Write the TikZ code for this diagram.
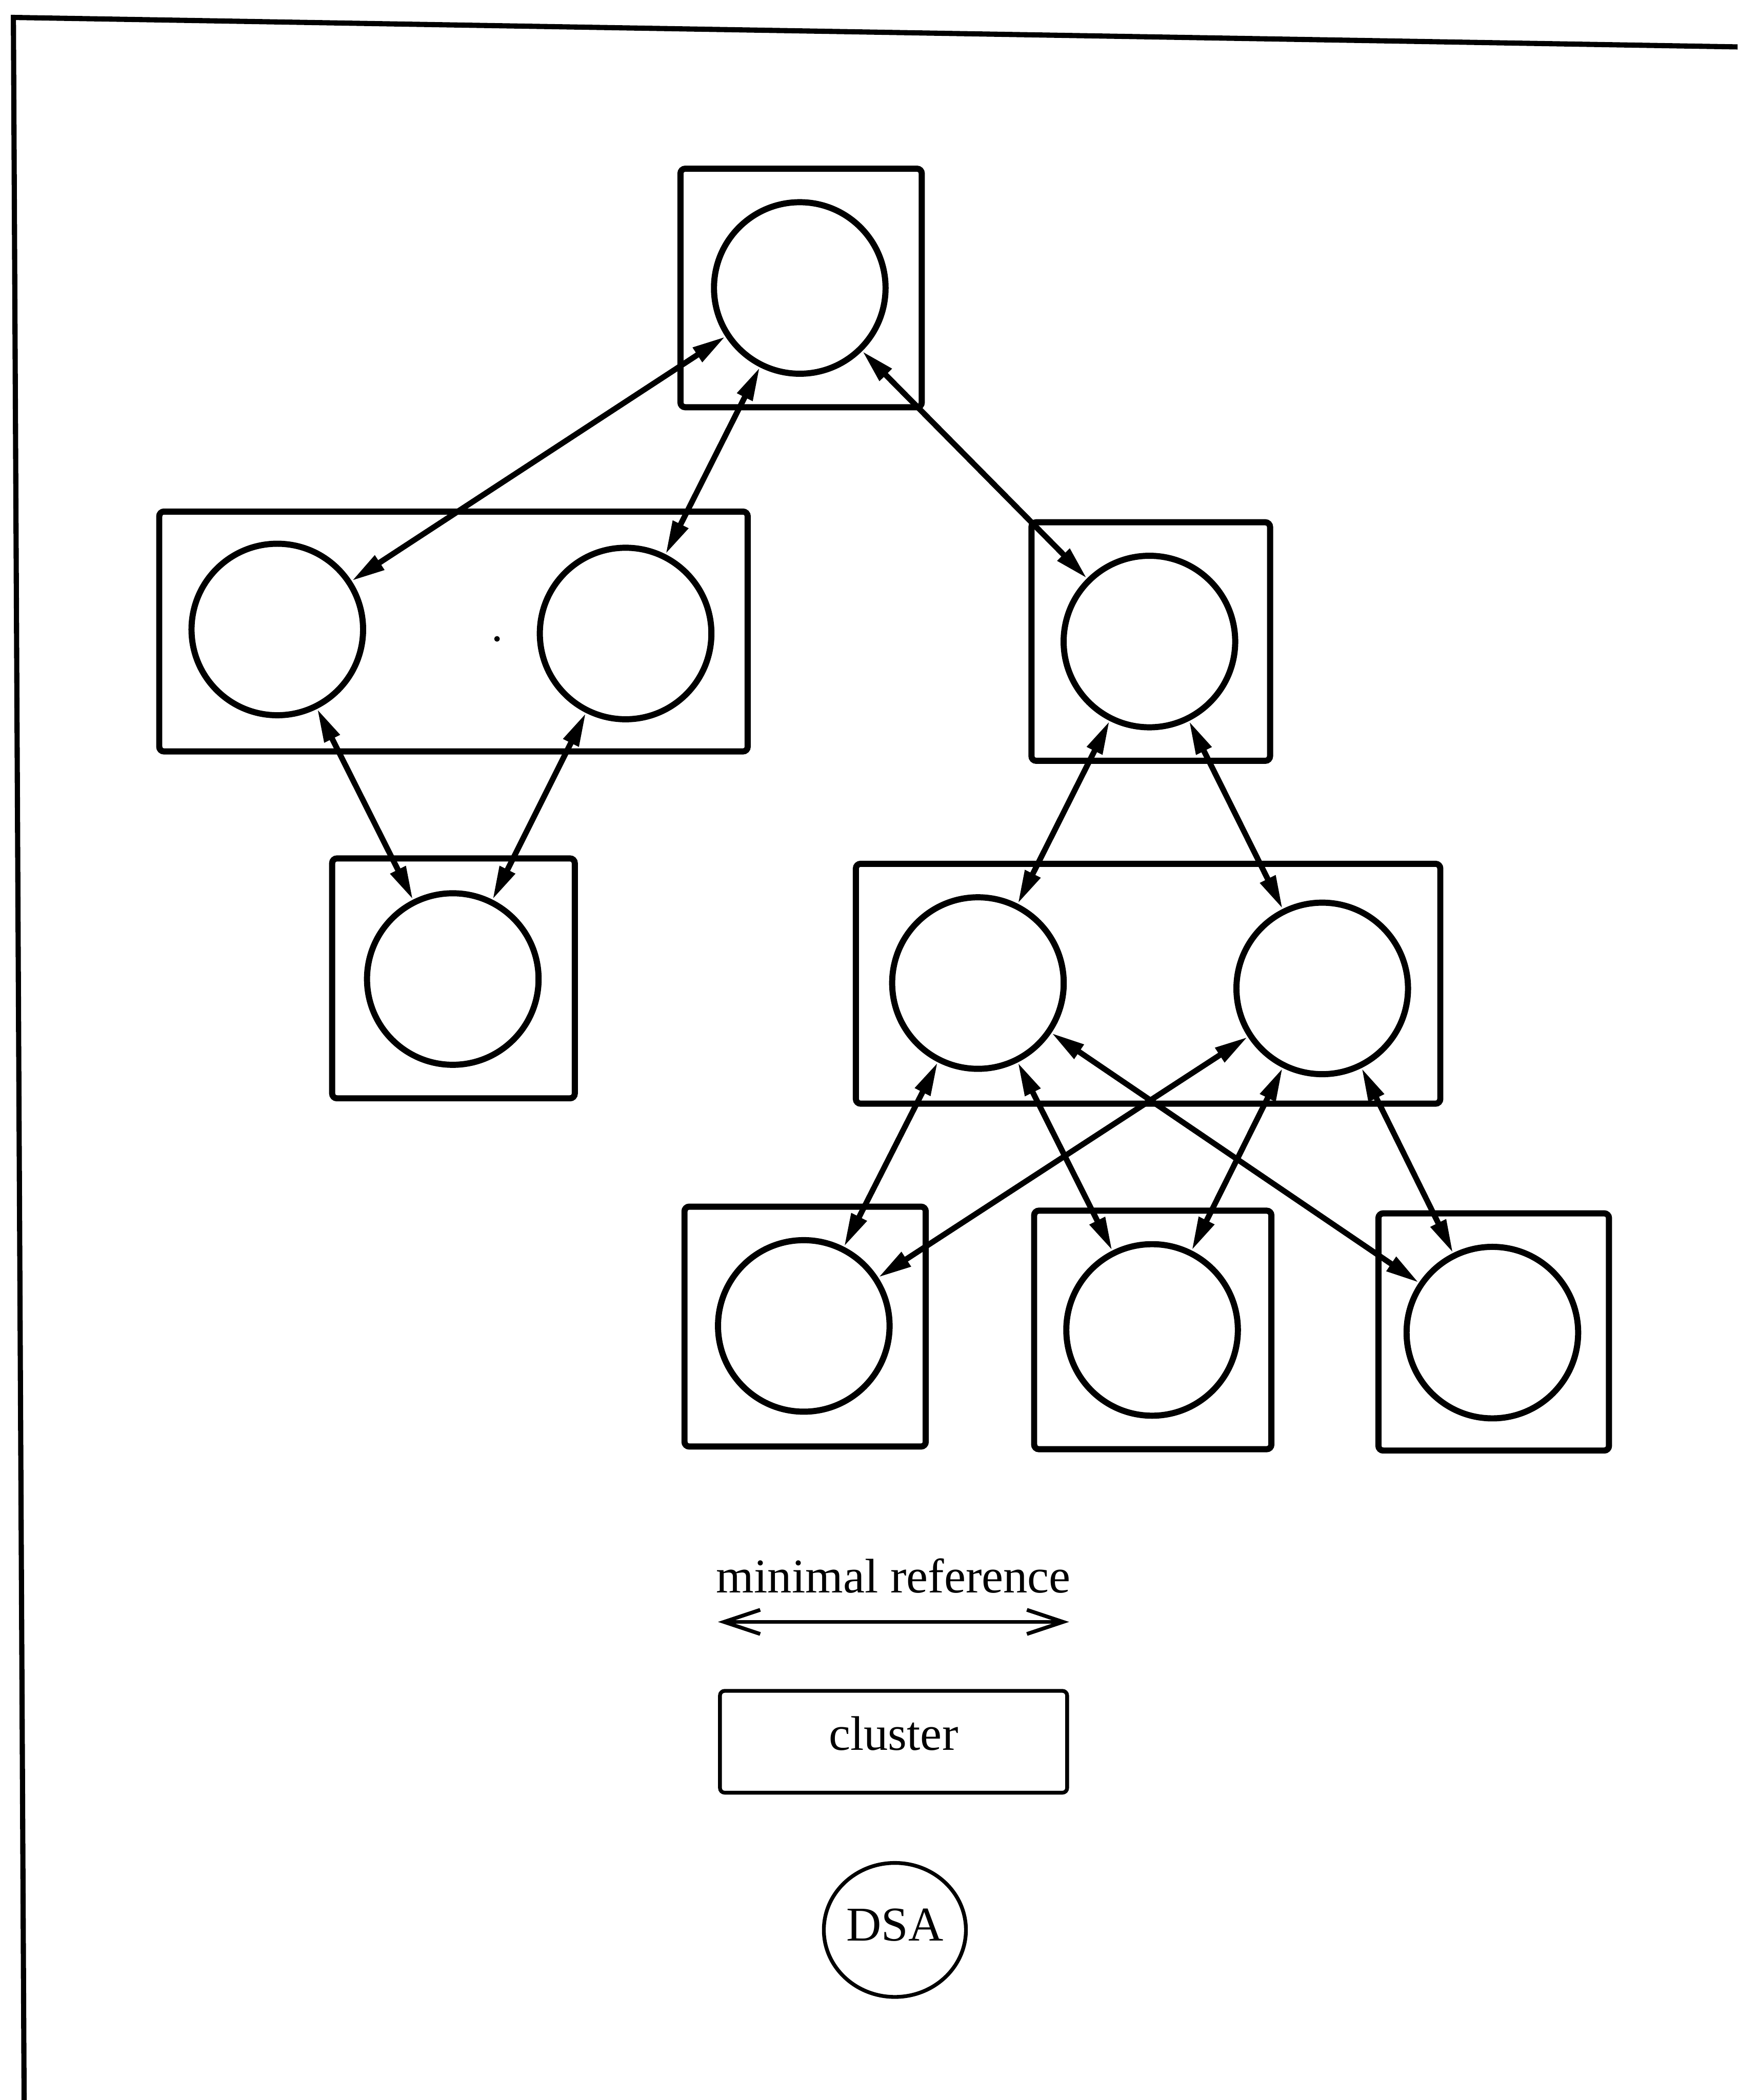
\documentclass[tikz,border=0pt]{standalone}
\usepackage{fontspec}
\setmainfont{Liberation Serif}
\usetikzlibrary{arrows.meta,shapes.geometric}
\begin{document}
\begin{tikzpicture}[x=0.01cm,y=-0.01cm,
  dsa/.style={circle,draw,line width=1.3pt,minimum size=1.28cm,inner sep=0pt},
  clusterbox/.style={rectangle,draw,line width=1.3pt,inner sep=0pt,rounded corners=1pt},
  ref/.style={line width=1.2pt,{Triangle[length=0.25cm,width=0.12cm]}-{Triangle[length=0.25cm,width=0.12cm]}},
  legendline/.style={line width=0.8pt},
  lbl/.style={font=\fontsize{10.3}{12}\selectfont,inner sep=0pt,anchor=base}
]
\useasboundingbox (0,0) rectangle (1297,1568);

% page frame
\coordinate (fTL) at (10,13);
\coordinate (fTR) at (1297,35);
\coordinate (fBL) at (18,1568);
\draw[line width=1.1pt] (fTR) -- (fTL) -- (fBL);

% clusters
\node[clusterbox,minimum width=1.80cm,minimum height=1.78cm] (k0) at (598,215) {};
\node[clusterbox,minimum width=4.39cm,minimum height=1.79cm] (k1) at (338.5,471.5) {};
\node[clusterbox,minimum width=1.81cm,minimum height=1.79cm] (k2) at (338.5,730.5) {};
\node[clusterbox,minimum width=1.78cm,minimum height=1.78cm] (k3) at (859,479) {};
\node[clusterbox,minimum width=4.36cm,minimum height=1.79cm] (k4) at (857,734.5) {};
\node[clusterbox,minimum width=1.80cm,minimum height=1.79cm] (k5) at (601,990.5) {};
\node[clusterbox,minimum width=1.77cm,minimum height=1.78cm] (k6) at (860.5,993) {};
\node[clusterbox,minimum width=1.72cm,minimum height=1.77cm] (k7) at (1115,994.5) {};

% DSAs
\node[dsa] (a)  at (597,215) {};
\node[dsa] (b1) at (207,470) {};
\node[dsa] (b2) at (467,473) {};
\node[dsa] (c)  at (338,731) {};
\node[dsa] (d)  at (858,479) {};
\node[dsa] (e1) at (730,734) {};
\node[dsa] (e2) at (987,738) {};
\node[dsa] (f1) at (600,990) {};
\node[dsa] (f2) at (860,993) {};
\node[dsa] (f3) at (1114,995) {};

\fill (371,477) circle[radius=0.6pt];

% minimal references
\draw[ref] (a) -- (b1);
\draw[ref] (a) -- (b2);
\draw[ref] (a) -- (d);
\draw[ref] (b1) -- (c);
\draw[ref] (b2) -- (c);
\draw[ref] (d) -- (e1);
\draw[ref] (d) -- (e2);
\draw[ref] (e1) -- (f1);
\draw[ref] (e1) -- (f2);
\draw[ref] (e1) -- (f3);
\draw[ref] (e2) -- (f1);
\draw[ref] (e2) -- (f2);
\draw[ref] (e2) -- (f3);

% legend
\node[lbl] (lmr) at (667,1189) {minimal reference};
\coordinate (lmrL) at (536,1211);
\coordinate (lmrR) at (798,1211);
\draw[legendline,{Straight Barb[length=0.27cm,width=0.18cm]}-{Straight Barb[length=0.27cm,width=0.18cm]}] (lmrL) -- (lmrR);

\node[clusterbox,line width=0.8pt,minimum width=2.59cm,minimum height=0.76cm] (lcb) at (667,1300.5) {};
\node[lbl] (lct) at (667,1306.6) {cluster};

\node[ellipse,draw,line width=0.8pt,minimum width=1.06cm,minimum height=1.0cm,inner sep=0pt] (lds) at (668,1441) {};
\node[lbl] (ldt) at (668,1449) {DSA};
\end{tikzpicture}
\end{document}
